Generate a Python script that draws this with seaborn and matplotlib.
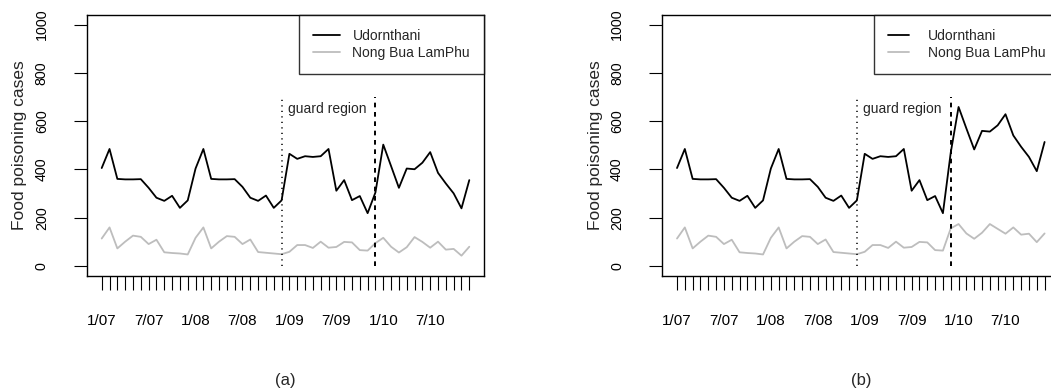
import numpy as np
import pandas as pd
import matplotlib
matplotlib.use("Agg")
import matplotlib.pyplot as plt
import seaborn as sns

# ---- data (monthly, 1/07 .. 12/10) ----
months = ["%d/%02d" % (m, y) for y in (7, 8, 9, 10) for m in range(1, 13)]
tick_labels = ["1/07", "7/07", "1/08", "7/08", "1/09", "7/09", "1/10", "7/10"]

udon_a = [406, 485, 361, 359, 359, 360, 324, 283, 270, 291, 241, 272,
          404, 485, 361, 359, 359, 360, 328, 283, 270, 292, 241, 272,
          465, 444, 455, 452, 455, 485, 312, 356, 273, 290, 219, 305,
          503, 414, 324, 404, 401, 428, 472, 386, 342, 301, 239, 356]
nong_a = [114, 160, 73, 101, 126, 121, 91, 109, 57, 54, 52, 48,
          117, 160, 73, 101, 124, 121, 91, 110, 58, 55, 52, 49,
          59, 87, 87, 75, 101, 76, 79, 100, 98, 66, 64, 95,
          117, 80, 56, 78, 120, 100, 76, 101, 68, 71, 43, 80]

udon_b = udon_a[:35] + [470, 659, 570, 483, 560, 557, 583, 629, 541, 494, 452, 393, 514]
nong_b = nong_a[:35] + [156, 174, 135, 113, 138, 174, 154, 134, 160, 130, 134, 99, 135]

series_names = ["Udornthani", "Nong Bua LamPhu"]
guard_start, guard_end = 23, 35
panel_tags = ["(a)", "(b)"]

sns.set_style("white")
plt.rcParams["font.family"] = ["Liberation Sans", "DejaVu Sans"]

W, H = 1051, 392
fig = plt.figure(figsize=(W / 100, H / 100), dpi=100)

def make_df(u, n):
    return pd.DataFrame({
        "t": list(range(len(u))) * 2,
        "cases": list(u) + list(n),
        "region": [series_names[0]] * len(u) + [series_names[1]] * len(n),
    })

panels = [(make_df(udon_a, nong_a), 87), (make_df(udon_b, nong_b), 662.3)]
pal = {series_names[0]: "black", series_names[1]: "#bdbdbd"}

for k, (df, left_px) in enumerate(panels):
    ax = fig.add_axes([left_px / W, (H - 275.7) / H, 397 / W, 260.7 / H])
    sns.lineplot(data=df, x="t", y="cases", hue="region", palette=pal,
                 linewidth=1.3, ax=ax, legend=True)
    ax.set_xlim(-1.88, 48.88)
    ax.set_ylim(-40, 1040)
    ax.vlines(guard_start, 0, 700, colors="black", linewidth=1.1,
              linestyles=(0, (0.8, 2.8)))
    ax.vlines(guard_end, 0, 700, colors="black", linewidth=1.4,
              linestyles=(0, (2.4, 2.4)))
    ax.text(23.8, 652, "guard region", ha="left", va="center", fontsize=10)

    n = len(months)
    ax.set_xticks(range(n))
    ax.set_xticklabels([months[i] if i % 6 == 0 else "" for i in range(n)])
    ax.set_yticks([0, 200, 400, 600, 800, 1000])
    ax.set_yticklabels(["0", "200", "400", "600", "800", "1000"])
    ax.tick_params(axis="x", direction="out", length=10, width=0.8,
                   pad=17.5, labelsize=11, colors="black", bottom=True)
    ax.tick_params(axis="y", direction="out", length=9.5, width=0.8,
                   pad=18, labelsize=10.3, colors="black", left=True)
    for lab in ax.get_yticklabels():
        lab.set_rotation(90)
        lab.set_va("center")
        lab.set_ha("right")
    for s in ax.spines.values():
        s.set_color("black")
        s.set_linewidth(1.0)
        s.set_visible(True)

    ax.set_xlabel("")
    ax.set_ylabel("Food poisoning cases", fontsize=12.5)
    ax.yaxis.label.set_va("center")
    ax.yaxis.set_label_coords((20 - 87) / 397, 0.5)

    ax.text(0.5, (275.7 - 380) / 260.7, panel_tags[k], transform=ax.transAxes,
            ha="center", va="center", fontsize=12)

    handles, labels = ax.get_legend_handles_labels()
    common = dict(borderaxespad=0, fontsize=10, labelspacing=0.24,
                  borderpad=1.0, frameon=True, fancybox=False)
    if k == 0:
        leg = ax.legend(handles, labels, loc="upper right", bbox_to_anchor=(1, 1),
                        handlelength=1.95, handletextpad=0.9, **common)
    else:
        leg = ax.legend(handles, labels, loc="upper left",
                        bbox_to_anchor=((874 - 662.3) / 397, 1),
                        handlelength=1.5, handletextpad=1.4, **common)
    leg.get_frame().set_edgecolor("black")
    leg.get_frame().set_linewidth(1.0)
    for lh in leg.get_lines():
        lh.set_linewidth(1.3)

fig.savefig("out.png", dpi=100)
